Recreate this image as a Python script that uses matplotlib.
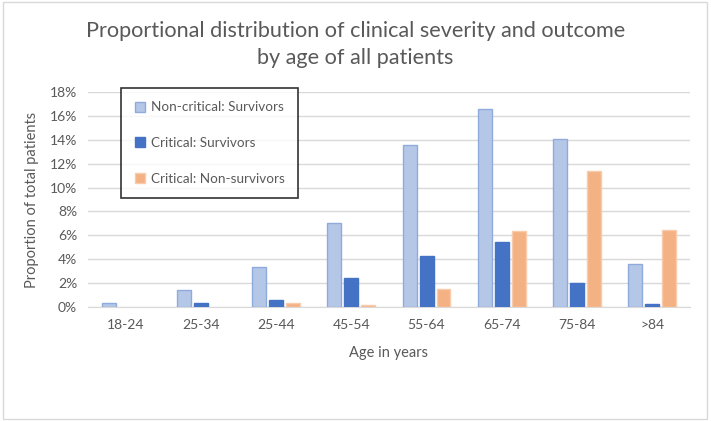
import matplotlib.pyplot as plt
import numpy as np
from matplotlib.ticker import PercentFormatter
from matplotlib.patches import Rectangle

plt.rcParams['font.family'] = ['Lato', 'DejaVu Sans']

ages = ['18-24', '25-34', '25-44', '45-54', '55-64', '65-74', '75-84', '>84']
noncrit_surv = [0.35, 1.4, 3.3, 7.05, 13.55, 16.55, 14.05, 3.6]
crit_surv = [0.0, 0.3, 0.6, 2.4, 4.25, 5.45, 2.0, 0.2]
crit_nonsurv = [0.0, 0.0, 0.3, 0.15, 1.5, 6.35, 11.35, 6.45]

series = [
    ('Non-critical: Survivors', noncrit_surv, '#b4c7e7', '#8faadc'),
    ('Critical: Survivors', crit_surv, '#4472c4', '#4472c4'),
    ('Critical: Non-survivors', crit_nonsurv, '#f4b183', '#f8cbad'),
]

grey = '#595959'

fig = plt.figure(figsize=(7.11, 4.21), dpi=100)
fig.patches.append(Rectangle((0.004, 0.005), 0.99, 0.99, transform=fig.transFigure,
                             fill=False, edgecolor='#d9d9d9', linewidth=1))
ax = fig.add_axes([0.124, 0.2715, 0.846, 0.5095])

x = np.arange(len(ages))
w = 0.186
step = 0.226
for i, (name, vals, face, edge) in enumerate(series):
    vals = np.array(vals) / 100
    keep = vals > 0  # empty groups have no bar at all
    ax.bar(x[keep] + (i - 1) * step, vals[keep], w, color=face, edgecolor=edge,
           linewidth=1, label=name, zorder=3)

ax.set_xlim(-0.5, len(ages) - 0.5)
ax.set_ylim(0, 0.18)
ax.set_yticks(np.arange(0, 0.181, 0.02))
ax.yaxis.set_major_formatter(PercentFormatter(1.0, decimals=0))
ax.set_xticks(x)
ax.set_xticklabels(ages)
ax.tick_params(length=0, colors=grey, labelsize=10)
ax.tick_params(axis='x', pad=9)
ax.tick_params(axis='y', pad=8)
ax.grid(axis='y', color='#d9d9d9', linewidth=1, zorder=0)
for s in ['top', 'right', 'left']:
    ax.spines[s].set_visible(False)
ax.spines['bottom'].set_color('#d9d9d9')

ax.set_xlabel('Age in years', color=grey, fontsize=10.5, labelpad=11)
ax.set_ylabel('Proportion of total patients', color=grey, fontsize=10.5, labelpad=8)

fig.text(0.5, 0.895, 'Proportional distribution of clinical severity and outcome\nby age of all patients',
         ha='center', va='center', color=grey, fontsize=15.6, linespacing=1.45)

leg = ax.legend(loc='upper left', bbox_to_anchor=(0.055, 1.02), frameon=True, fancybox=False,
                edgecolor='black', fontsize=9.7, labelspacing=1.75, handlelength=0.8,
                handleheight=0.8, handletextpad=0.4, borderpad=1.0, borderaxespad=0)
leg.get_frame().set_linewidth(1.2)
for t in leg.get_texts():
    t.set_color(grey)

fig.savefig('out.png', dpi=100)
